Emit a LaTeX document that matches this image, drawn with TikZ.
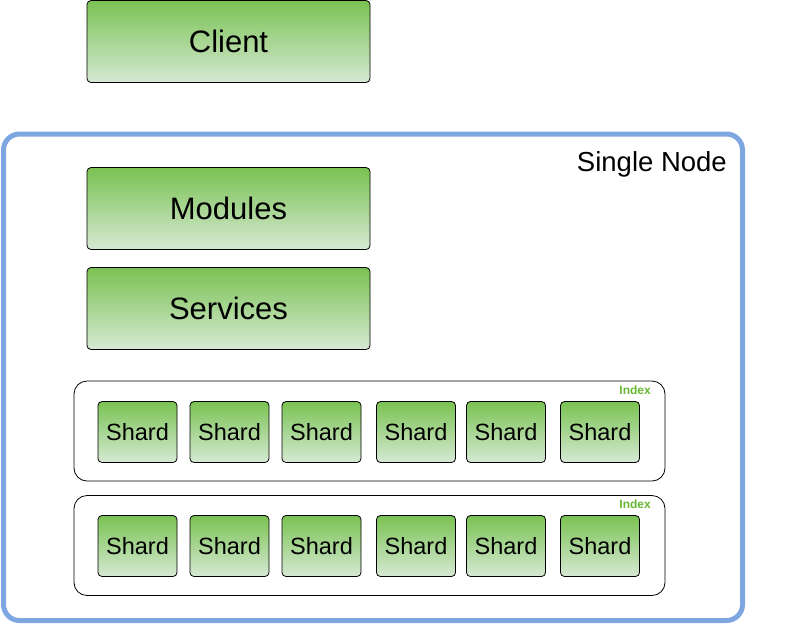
\documentclass[tikz,border=0pt]{standalone}
\usepackage{fontspec}
\setmainfont{Liberation Sans}
\definecolor{gtop}{RGB}{122,194,82}
\definecolor{gbot}{RGB}{214,233,212}
\definecolor{outerblue}{RGB}{126,166,224}
\definecolor{idxgreen}{RGB}{102,184,50}
\tikzset{
  gbox/.style={draw=black, line width=0.8pt, rounded corners=4pt, top color=gtop, bottom color=gbot, inner sep=0pt},
  bigbox/.style={gbox, minimum width=283pt, minimum height=82pt, font=\fontsize{31}{36}\selectfont},
  shardbox/.style={gbox, minimum width=79pt, minimum height=61pt, font=\fontsize{23.5}{28}\selectfont},
  idxbox/.style={draw=black, line width=0.8pt, rounded corners=13pt},
  idxlabel/.style={text=idxgreen, font=\fontsize{12}{14}\selectfont\bfseries, anchor=east, inner sep=0pt},
}
\begin{document}
\begin{tikzpicture}[x=1pt,y=-1pt]
\useasboundingbox (0,0) rectangle (791,625);
\draw[outerblue, line width=5pt, rounded corners=16pt] (3.5,134) rectangle (742.5,620.5);
\node[anchor=east, inner sep=0pt, font=\fontsize{27.5}{32}\selectfont] (single) at (727,164) {Single Node};
\node[bigbox] (client) at (228.5,41.5) {Client};
\node[bigbox] (modules) at (228.5,208.5) {Modules};
\node[bigbox] (services) at (228.5,308.5) {Services};
\draw[idxbox] (74,381) rectangle (665,481);
\node[idxlabel] (idx1) at (651,390) {Index};
\draw[idxbox] (74,495.5) rectangle (665,595.5);
\node[idxlabel] (idx2) at (651,504.5) {Index};
\foreach \x [count=\i] in {137.5,229.5,321.5,416,506,600} {
  \node[shardbox] (s1\i) at (\x,432) {Shard};
  \node[shardbox] (s2\i) at (\x,546) {Shard};
}
\end{tikzpicture}
\end{document}
